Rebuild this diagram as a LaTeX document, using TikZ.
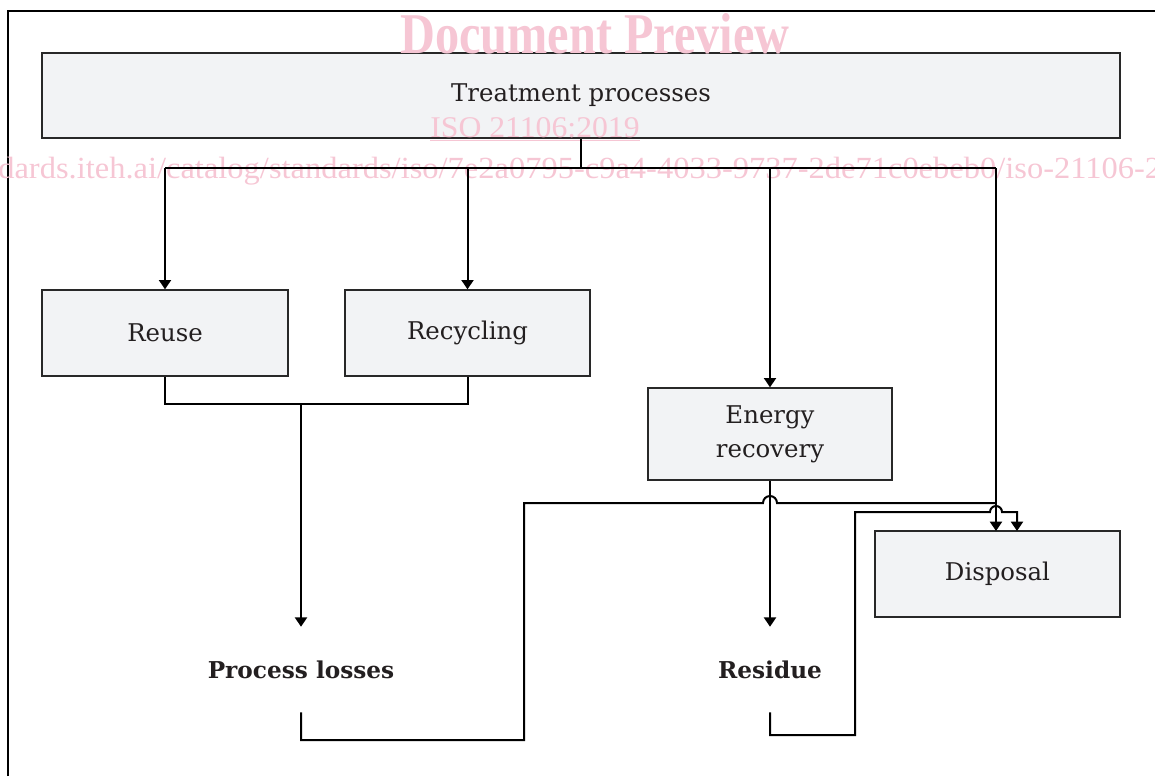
\documentclass[tikz,border=0pt]{standalone}
\usepackage{fontspec}
\usetikzlibrary{arrows.meta}
\newfontfamily\wmfont{Liberation Serif}
\newfontfamily\boxfont{DejaVu Serif}
\definecolor{boxfill}{RGB}{242,243,245}
\definecolor{boxline}{RGB}{40,40,40}
\definecolor{wmpink}{RGB}{246,198,212}
\definecolor{txt}{RGB}{35,31,32}
\tikzset{
  procbox/.style={draw=boxline, line width=1pt, fill=boxfill, inner sep=0pt, align=center,
    text=txt, font=\boxfont\fontsize{18.3}{25.5}\selectfont},
  outlabel/.style={inner sep=0pt, minimum height=63.75pt, text=txt,
    font=\boxfont\fontsize{17.4}{25.5}\selectfont\bfseries},
  conn/.style={line width=1.5pt, black},
  arr/.style={conn, -{Triangle[width=9pt,length=7pt]}},
  frameline/.style={line width=1.5pt, black},
  wm/.style={inner sep=0pt, text=wmpink, font=\wmfont}
}
\begin{document}
\begin{tikzpicture}[x=0.75pt,y=-0.75pt]
\useasboundingbox (0,0) rectangle (1155,776);
% outer frame
\draw[frameline] (8,776) -- (8,11) -- (1155,11);

% boxes
\node[procbox, minimum width=808.5pt, minimum height=63.75pt] (T) at (581,95.5) {Treatment processes};
\node[procbox, minimum width=184.5pt, minimum height=64.5pt] (reuse) at (165,333) {Reuse};
\node[procbox, minimum width=183.75pt, minimum height=64.5pt] (recyc) at (467.5,333) {Recycling};
\node[procbox, minimum width=183pt, minimum height=69pt] (energy) at (770,434) {Energy\\recovery};
\node[procbox, minimum width=183.75pt, minimum height=64.5pt] (disp) at (997.5,574) {Disposal};

% output labels
\node[outlabel] (pl) at (301,669.5) {Process losses};
\node[outlabel] (res) at (770,669.5) {Residue};

% watermark
\node[wm, anchor=base] (wm1) at (595,53) {\resizebox{292pt}{30pt}{\bfseries Document Preview}};
\node[wm, anchor=base] (wm2) at (535,137) {\resizebox{157pt}{15pt}{ISO 21106:2019}};
\draw[wmpink, line width=0.8pt] (wm2.south west) ++(0,3) coordinate (u1) -- (wm2.south east |- u1);
\node[wm, anchor=base west] (wm3) at (-2,178) {\resizebox{872pt}{16pt}{dards.iteh.ai/catalog/standards/iso/7e2a0795-c9a4-4033-9737-2de71c0ebeb0/iso-21106-2}};

% coordinates
\coordinate (bus) at (581,168);
\coordinate (dA) at (996,531);
\coordinate (dB) at (1017,531);
\coordinate (m) at (301,404);
\coordinate (pl1) at (301,740);
\coordinate (pl2) at (524,740);
\coordinate (pl3) at (524,503);
\coordinate (h1) at (763,503);
\coordinate (j) at (996,503);
\coordinate (r1) at (770,735);
\coordinate (r2) at (855,735);
\coordinate (r3) at (855,512);
\coordinate (h2) at (990,512);
\coordinate (r4) at (1017,512);

% connectors
\draw[conn] (T.south) -- (bus);
\draw[conn] (reuse.north |- bus) -- (dA |- bus);
\draw[arr] (reuse.north |- bus) -- (reuse.north);
\draw[arr] (recyc.north |- bus) -- (recyc.north);
\draw[arr] (energy.north |- bus) -- (energy.north);
\draw[arr] (dA |- bus) -- (dA);
\draw[conn] (reuse.south) |- (m) -| (recyc.south);
\draw[arr] (m) -- (pl.north);
\draw[arr] (energy.south) -- (res.north);
\draw[conn] (pl.south) -- (pl1) -- (pl2) -- (pl3) -- (h1) arc[start angle=180, end angle=360, radius=7] -- (j);
\draw[arr] (res.south) -- (r1) -- (r2) -- (r3) -- (h2) arc[start angle=180, end angle=360, radius=6] -- (r4) -- (dB);
\end{tikzpicture}
\end{document}
